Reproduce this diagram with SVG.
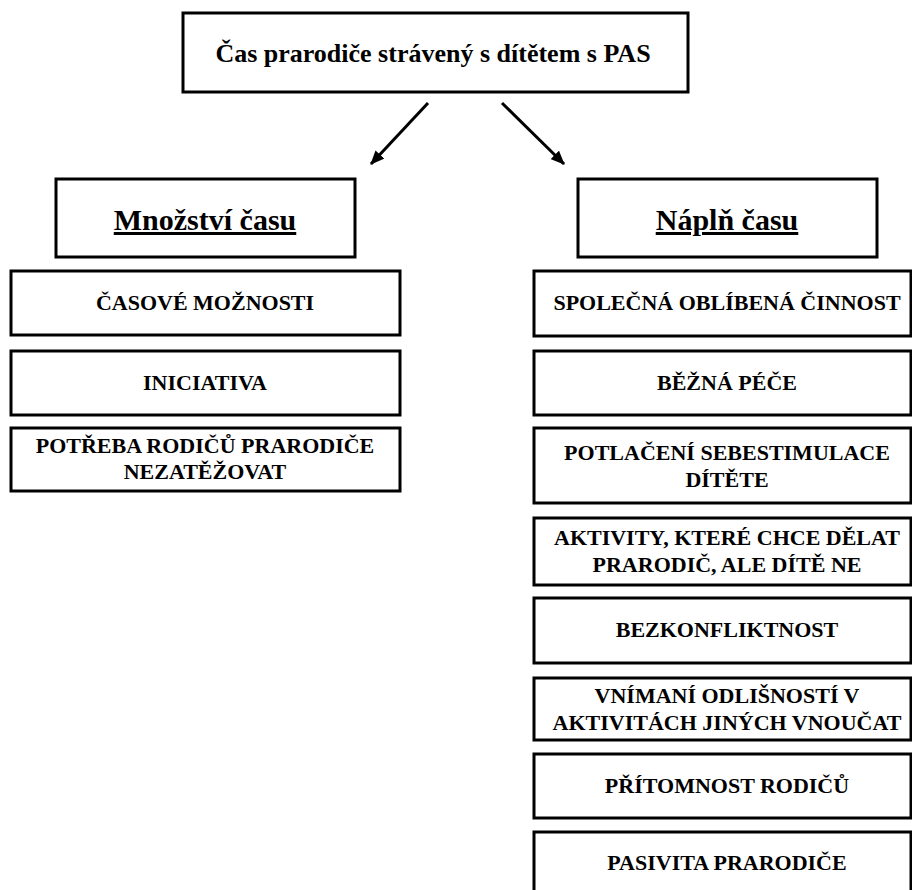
<svg xmlns="http://www.w3.org/2000/svg" width="912" height="890" viewBox="0 0 912 890">
<defs>
<style>
.box{fill:#fff;stroke:#000;stroke-width:3}
text{font-family:"Liberation Serif","Times New Roman",serif;font-weight:bold;fill:#000;text-anchor:middle}
.title{font-size:26px}
.head{font-size:30px;text-decoration:underline}
.item{font-size:22px}
.conn{stroke:#000;stroke-width:3;fill:none}
</style>
<marker id="ah" markerWidth="14" markerHeight="12" refX="13" refY="6" orient="auto" markerUnits="userSpaceOnUse" viewBox="0 0 14 12">
<path d="M0,0 L14,6 L0,12 Z" fill="#000"/>
</marker>
</defs>
<rect width="912" height="890" fill="#fff"/>
<g id="connectors">
<line class="conn" x1="428" y1="103" x2="371" y2="164" marker-end="url(#ah)"/>
<line class="conn" x1="502" y1="103" x2="564" y2="164" marker-end="url(#ah)"/>
</g>
<g id="root"><rect class="box" x="183" y="13" width="505" height="79"/><text class="title" x="433" y="62">Čas prarodiče strávený s dítětem s PAS</text></g>
<g id="mnozstvi"><rect class="box" x="56" y="179" width="299" height="78"/><text class="head" x="205" y="230">Množství času</text></g>
<g id="napln"><rect class="box" x="578" y="179" width="299" height="78"/><text class="head" x="727" y="230">Náplň času</text></g>
<g id="l1"><rect class="box" x="11" y="271" width="389" height="64"/><text class="item" x="205" y="310">ČASOVÉ MOŽNOSTI</text></g>
<g id="l2"><rect class="box" x="11" y="351" width="389" height="64"/><text class="item" x="205" y="390">INICIATIVA</text></g>
<g id="l3"><rect class="box" x="11" y="428" width="389" height="63"/><text class="item" x="205" y="453">POTŘEBA RODIČŮ PRARODIČE</text><text class="item" x="205" y="479">NEZATĚŽOVAT</text></g>
<g id="r1"><rect class="box" x="534" y="271" width="377" height="65"/><text class="item" x="727" y="310">SPOLEČNÁ OBLÍBENÁ ČINNOST</text></g>
<g id="r2"><rect class="box" x="534" y="351" width="377" height="64"/><text class="item" x="727" y="390">BĚŽNÁ PÉČE</text></g>
<g id="r3"><rect class="box" x="534" y="428" width="377" height="75"/><text class="item" x="727" y="460">POTLAČENÍ SEBESTIMULACE</text><text class="item" x="727" y="487">DÍTĚTE</text></g>
<g id="r4"><rect class="box" x="534" y="518" width="377" height="67"/><text class="item" x="727" y="545">AKTIVITY, KTERÉ CHCE DĚLAT</text><text class="item" x="727" y="572">PRARODIČ, ALE DÍTĚ NE</text></g>
<g id="r5"><rect class="box" x="534" y="598" width="377" height="65"/><text class="item" x="727" y="637">BEZKONFLIKTNOST</text></g>
<g id="r6"><rect class="box" x="534" y="678" width="377" height="62"/><text class="item" x="727" y="703">VNÍMANÍ ODLIŠNOSTÍ V</text><text class="item" x="727" y="730">AKTIVITÁCH JINÝCH VNOUČAT</text></g>
<g id="r7"><rect class="box" x="534" y="754" width="377" height="64"/><text class="item" x="727" y="793">PŘÍTOMNOST RODIČŮ</text></g>
<g id="r8"><rect class="box" x="534" y="832" width="377" height="64"/><text class="item" x="727" y="870">PASIVITA PRARODIČE</text></g>
</svg>
